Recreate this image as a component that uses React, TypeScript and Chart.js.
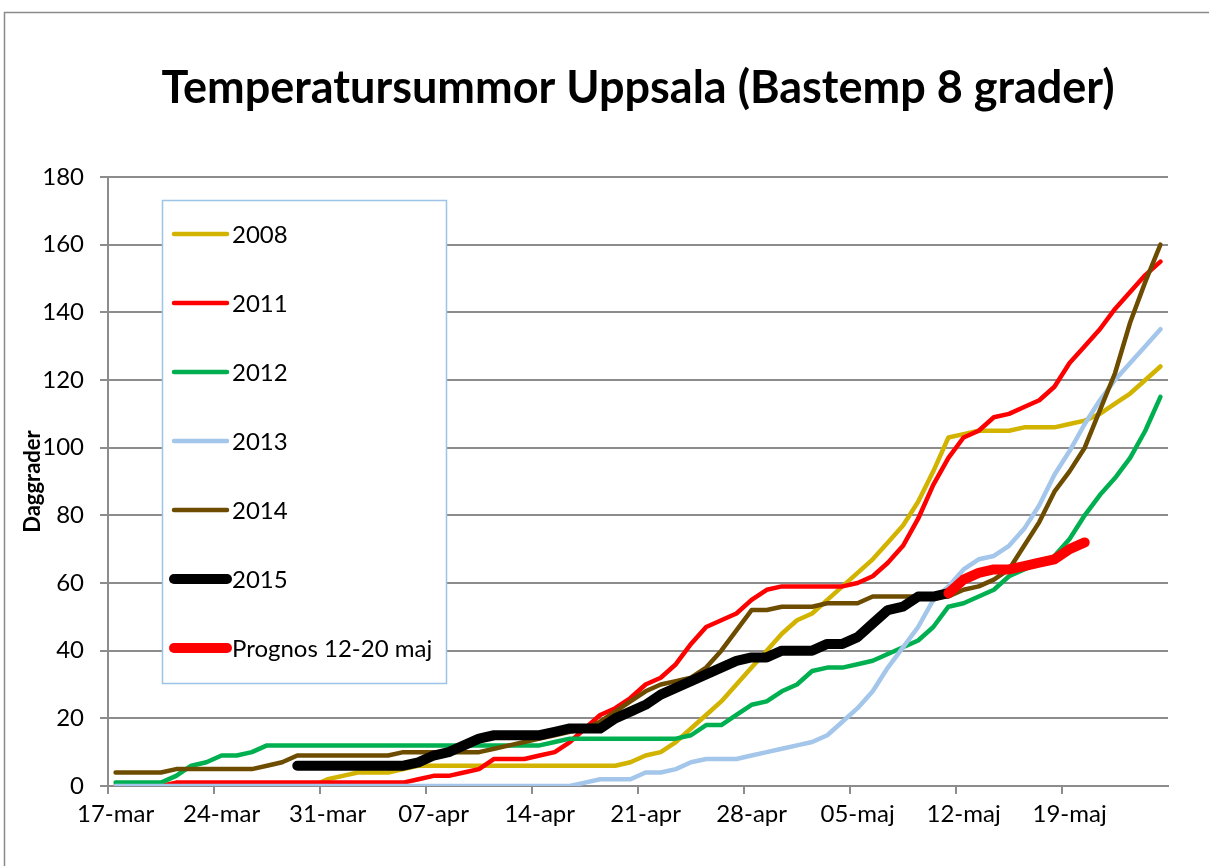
import React, { useEffect, useRef } from 'react';
import { Chart, registerables } from 'chart.js';

Chart.register(...registerables);

const TITLE = 'Temperatursummor Uppsala (Bastemp 8 grader)';
const Y_TITLE = 'Daggrader';
const FONT = 'Lato';

const CATEGORIES = [
  '17-mar', '18-mar', '19-mar', '20-mar', '21-mar', '22-mar', '23-mar', '24-mar', '25-mar', '26-mar',
  '27-mar', '28-mar', '29-mar', '30-mar', '31-mar', '01-apr', '02-apr', '03-apr', '04-apr', '05-apr',
  '06-apr', '07-apr', '08-apr', '09-apr', '10-apr', '11-apr', '12-apr', '13-apr', '14-apr', '15-apr',
  '16-apr', '17-apr', '18-apr', '19-apr', '20-apr', '21-apr', '22-apr', '23-apr', '24-apr', '25-apr',
  '26-apr', '27-apr', '28-apr', '29-apr', '30-apr', '01-maj', '02-maj', '03-maj', '04-maj', '05-maj',
  '06-maj', '07-maj', '08-maj', '09-maj', '10-maj', '11-maj', '12-maj', '13-maj', '14-maj', '15-maj',
  '16-maj', '17-maj', '18-maj', '19-maj', '20-maj', '21-maj', '22-maj', '23-maj', '24-maj', '25-maj',
];

const TICK_LABELS = ['17-mar', '24-mar', '31-mar', '07-apr', '14-apr', '21-apr', '28-apr', '05-maj', '12-maj', '19-maj'];

const Y_MIN = 0;
const Y_MAX = 180;
const Y_STEP = 20;

const S2008 = [
  0, 0, 0, 0, 0, 0, 0, 0, 0, 0,
  0, 0, 0, 0, 2, 3, 4, 4, 4, 5,
  6, 6, 6, 6, 6, 6, 6, 6, 6, 6,
  6, 6, 6, 6, 7, 9, 10, 13, 17, 21,
  25, 30, 35, 40, 45, 49, 51, 55, 59, 63,
  67, 72, 77, 84, 93, 103, 104, 105, 105, 105,
  106, 106, 106, 107, 108, 110, 113, 116, 120, 124,
];

const S2011 = [
  0, 0, 0, 0, 1, 1, 1, 1, 1, 1,
  1, 1, 1, 1, 1, 1, 1, 1, 1, 1,
  2, 3, 3, 4, 5, 8, 8, 8, 9, 10,
  13, 17, 21, 23, 26, 30, 32, 36, 42, 47,
  49, 51, 55, 58, 59, 59, 59, 59, 59, 60,
  62, 66, 71, 79, 89, 97, 103, 105, 109, 110,
  112, 114, 118, 125, 130, 135, 141, 146, 151, 155,
];

const S2012 = [
  1, 1, 1, 1, 3, 6, 7, 9, 9, 10,
  12, 12, 12, 12, 12, 12, 12, 12, 12, 12,
  12, 12, 12, 12, 12, 12, 12, 12, 12, 13,
  14, 14, 14, 14, 14, 14, 14, 14, 15, 18,
  18, 21, 24, 25, 28, 30, 34, 35, 35, 36,
  37, 39, 41, 43, 47, 53, 54, 56, 58, 62,
  64, 66, 68, 73, 80, 86, 91, 97, 105, 115,
];

const S2013 = [
  0, 0, 0, 0, 0, 0, 0, 0, 0, 0,
  0, 0, 0, 0, 0, 0, 0, 0, 0, 0,
  0, 0, 0, 0, 0, 0, 0, 0, 0, 0,
  0, 1, 2, 2, 2, 4, 4, 5, 7, 8,
  8, 8, 9, 10, 11, 12, 13, 15, 19, 23,
  28, 35, 41, 47, 55, 59, 64, 67, 68, 71,
  76, 83, 92, 99, 107, 114, 120, 125, 130, 135,
];

const S2014 = [
  4, 4, 4, 4, 5, 5, 5, 5, 5, 5,
  6, 7, 9, 9, 9, 9, 9, 9, 9, 10,
  10, 10, 10, 10, 10, 11, 12, 13, 14, 15,
  16, 17, 19, 22, 25, 28, 30, 31, 32, 35,
  40, 46, 52, 52, 53, 53, 53, 54, 54, 54,
  56, 56, 56, 56, 56, 56, 58, 59, 61, 64,
  71, 78, 87, 93, 100, 111, 122, 137, 149, 160,
];

const S2015 = [
  null, null, null, null, null, null, null, null, null, null,
  null, null, 6, 6, 6, 6, 6, 6, 6, 6,
  7, 9, 10, 12, 14, 15, 15, 15, 15, 16,
  17, 17, 17, 20, 22, 24, 27, 29, 31, 33,
  35, 37, 38, 38, 40, 40, 40, 42, 42, 44,
  48, 52, 53, 56, 56, 57, null, null, null, null,
  null, null, null, null, null, null, null, null, null, null,
];

const PROGNOS = [
  null, null, null, null, null, null, null, null, null, null,
  null, null, null, null, null, null, null, null, null, null,
  null, null, null, null, null, null, null, null, null, null,
  null, null, null, null, null, null, null, null, null, null,
  null, null, null, null, null, null, null, null, null, null,
  null, null, null, null, null, 57, 61, 63, 64, 64,
  65, 66, 67, 70, 72, null, null, null, null, null,
];

const SERIES = [
  { label: '2008', data: S2008, color: '#D2B400', width: 4.5 },
  { label: '2011', data: S2011, color: '#FF0000', width: 4.5 },
  { label: '2012', data: S2012, color: '#00B050', width: 4.5 },
  { label: '2013', data: S2013, color: '#A3C6EA', width: 4.5 },
  { label: '2014', data: S2014, color: '#6D4C00', width: 4.5 },
  { label: '2015', data: S2015, color: '#000000', width: 10 },
  { label: 'Prognos 12-20 maj', data: PROGNOS, color: '#FF0000', width: 10 },
];

const GRID = '#8c8c8c';

const framePlugin = {
  id: 'frame',
  beforeDraw(chart: any) {
    const ctx = chart.ctx;
    ctx.save();
    ctx.fillStyle = '#ffffff';
    ctx.fillRect(0, 0, chart.width, chart.height);
    ctx.strokeStyle = '#8a8a8a';
    ctx.lineWidth = 1.5;
    ctx.beginPath();
    ctx.moveTo(4.5, chart.height);
    ctx.lineTo(4.5, 12.5);
    ctx.lineTo(chart.width, 12.5);
    ctx.stroke();
    ctx.restore();
  },
};

const boxLegendPlugin = {
  id: 'boxLegend',
  afterDatasetsDraw(chart: any) {
    const ctx = chart.ctx;
    const left = 162;
    const top = 200;
    const w = 284;
    const h = 483;
    ctx.save();
    ctx.fillStyle = '#ffffff';
    ctx.fillRect(left, top, w, h);
    ctx.strokeStyle = '#9DC3E6';
    ctx.lineWidth = 1.5;
    ctx.strokeRect(left + 0.5, top + 0.5, w, h);
    chart.data.datasets.forEach((ds: any, i: number) => {
      const y = 234 + i * 69;
      ctx.beginPath();
      ctx.moveTo(174, y);
      ctx.lineTo(227, y);
      ctx.strokeStyle = ds.borderColor;
      ctx.lineWidth = ds.borderWidth;
      ctx.lineCap = 'round';
      ctx.stroke();
      ctx.fillStyle = '#000000';
      ctx.font = `24px ${FONT}`;
      ctx.textBaseline = 'middle';
      ctx.textAlign = 'left';
      ctx.fillText(ds.label, 232, y + 1);
    });
    ctx.restore();
  },
};

export default function App() {
  const ref = useRef<HTMLCanvasElement>(null);

  useEffect(() => {
    if (!ref.current) return;
    const n = SERIES.length;
    const chart = new Chart(ref.current, {
      type: 'line',
      data: {
        labels: CATEGORIES,
        datasets: SERIES.map((s, i) => ({
          label: s.label,
          data: s.data,
          borderColor: s.color,
          backgroundColor: s.color,
          borderWidth: s.width,
          pointRadius: 0,
          tension: 0,
          fill: false,
          spanGaps: false,
          borderCapStyle: 'round',
          borderJoinStyle: 'round',
          order: n - 1 - i,
        })),
      },
      options: {
        responsive: false,
        animation: false,
        events: [],
        layout: { padding: { left: 16, right: 41, top: 0, bottom: 0 } },
        plugins: {
          legend: { display: false },
          tooltip: { enabled: false },
          title: {
            display: true,
            text: TITLE,
            fullSize: false,
            color: '#000000',
            font: { family: FONT, size: 45, weight: 'bold' },
            padding: { top: 61, bottom: 62 },
          },
        },
        scales: {
          x: {
            type: 'category',
            offset: true,
            grid: {
              offset: true,
              drawOnChartArea: false,
              drawTicks: true,
              tickLength: 8,
              lineWidth: 2,
              color: (c: any) => (c.index % 7 === 0 ? GRID : 'rgba(0,0,0,0)'),
            },
            border: { display: true, color: GRID, width: 2 },
            ticks: {
              autoSkip: false,
              maxRotation: 0,
              minRotation: 0,
              padding: 6,
              color: '#000000',
              font: { family: FONT, size: 24 },
              callback: (_v: any, i: number) => (TICK_LABELS.includes(CATEGORIES[i]) ? CATEGORIES[i] : ''),
            },
            afterFit: (s: any) => {
              s.height = 80;
            },
          },
          y: {
            min: Y_MIN,
            max: Y_MAX,
            ticks: {
              stepSize: Y_STEP,
              padding: 16,
              color: '#000000',
              font: { family: FONT, size: 24 },
            },
            grid: { color: GRID, lineWidth: 2, tickLength: 8 },
            border: { display: true, color: GRID, width: 2 },
            title: {
              display: true,
              text: Y_TITLE,
              color: '#000000',
              font: { family: FONT, size: 22, weight: 'bold' },
            },
            afterFit: (s: any) => {
              s.width = 92;
            },
          },
        },
      },
      plugins: [framePlugin, boxLegendPlugin],
    } as any);
    return () => chart.destroy();
  }, []);

  return (
    <div style={{ position: 'absolute', left: 0, top: 0, width: 1209, height: 866, background: '#ffffff' }}>
      <canvas ref={ref} width={1209} height={866} style={{ display: 'block' }} />
    </div>
  );
}
